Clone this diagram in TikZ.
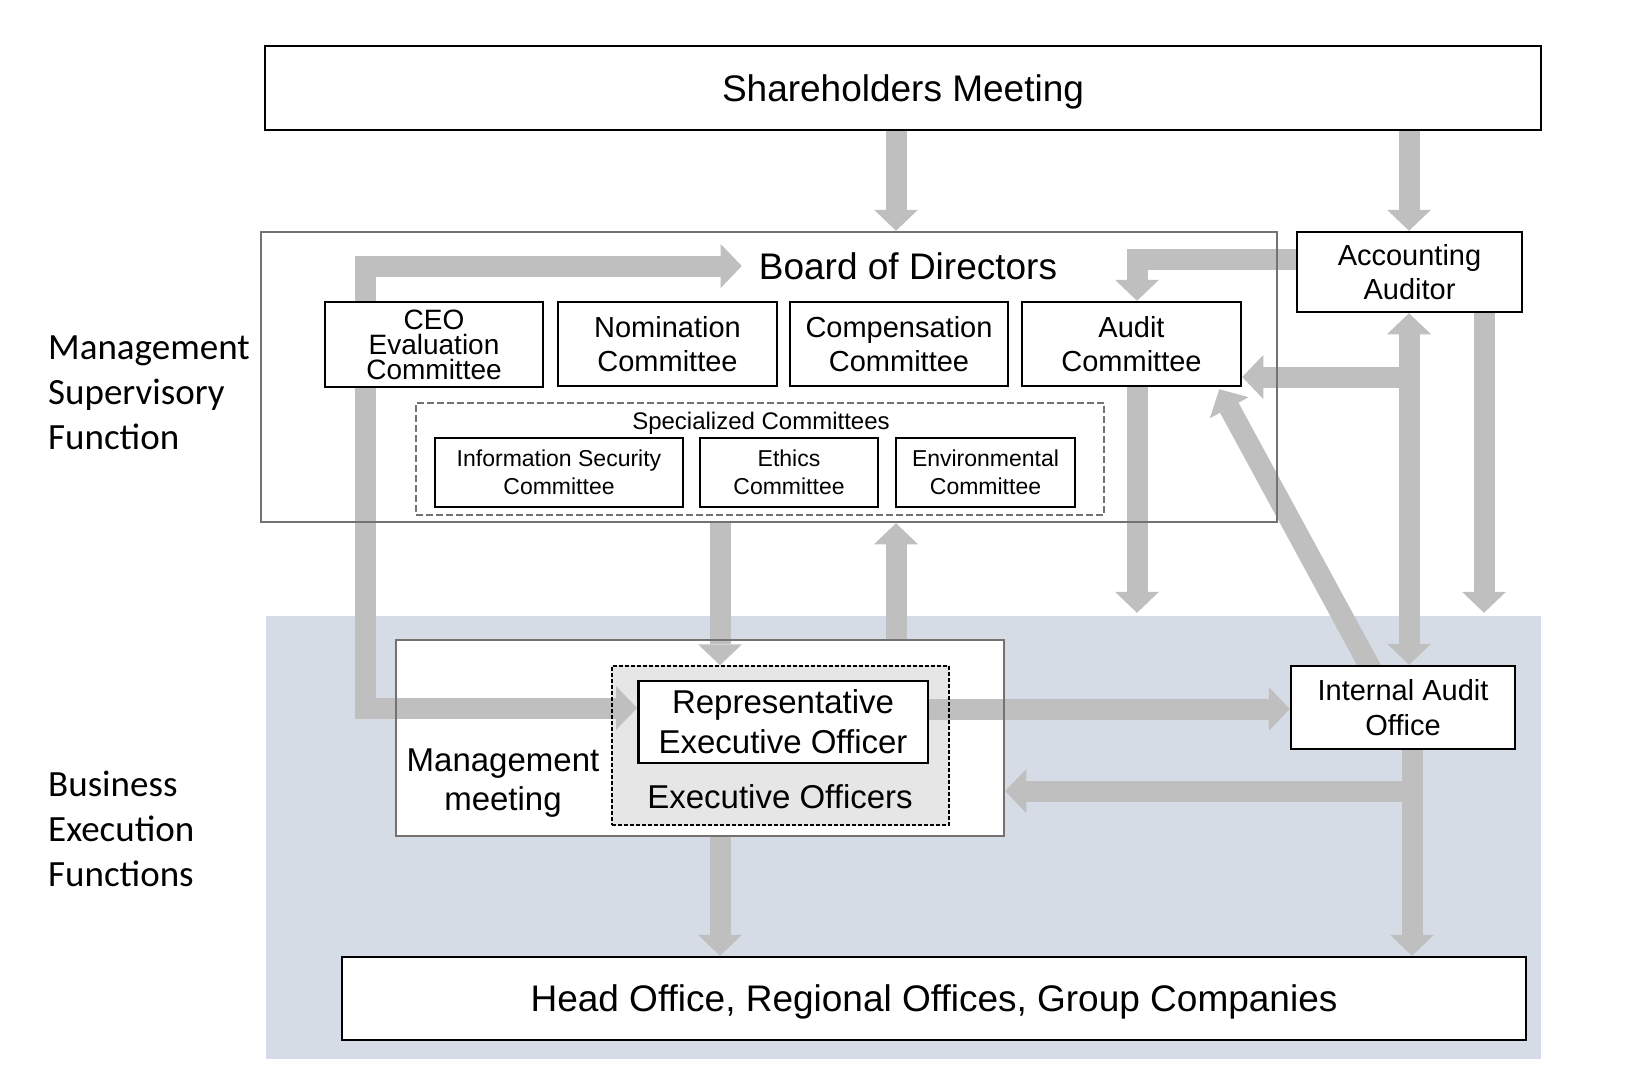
\documentclass[tikz,border=0pt]{standalone}
\usepackage{fontspec}
\setmainfont{Liberation Sans}
\newfontfamily\sidefont{Carlito}
\usetikzlibrary{arrows.meta}

\definecolor{flowgray}{RGB}{191,191,191}
\definecolor{bizblue}{RGB}{214,220,229}
\definecolor{framegray}{RGB}{118,113,113}
\definecolor{exofill}{RGB}{231,230,230}

\pgfdeclarelayer{back}
\pgfdeclarelayer{flows}
\pgfsetlayers{back,flows,main}

\tikzset{
  box/.style={draw=black, line width=2.5pt, fill=white, inner sep=0pt, align=center},
  outerframe/.style={draw=framegray, line width=2.5pt, inner sep=0pt},
  flow/.style={draw=flowgray, line width=21pt, line join=miter},
  >={Triangle[width=44pt,length=21pt,line width=0pt]},
  fbig/.style={font=\fontsize{37}{44}\selectfont},
  fmid/.style={font=\fontsize{33}{39.7}\selectfont},
  fcom/.style={font=\fontsize{29}{34.5}\selectfont},
  fsml/.style={font=\fontsize{23}{28}\selectfont},
  side/.style={font=\sidefont\fontsize{37}{45}\selectfont, align=left, anchor=west, inner sep=0pt},
}

\begin{document}
\begin{tikzpicture}[x=1pt,y=-1pt]
    \useasboundingbox (0,0) rectangle (1639,1084);

    % columns and rows of the arrows
    \coordinate (xa) at (896,0);
    \coordinate (xb) at (720,0);
    \coordinate (xc) at (1137,0);
    \coordinate (xd) at (1409,0);
    \coordinate (xe) at (1484,0);
    \coordinate (xf) at (1412,0);
    \coordinate (xg) at (365,0);
    \coordinate (ya) at (0,259);
    \coordinate (yb) at (0,377);
    \coordinate (yc) at (0,791);
    \coordinate (yd) at (0,709);
    \coordinate (ye) at (0,708);

    % Business execution area
    \begin{pgfonlayer}{back}
        \node[fill=bizblue, inner sep=0pt, minimum width=1275pt, minimum height=443pt] (biz) at (903,837.5) {};
    \end{pgfonlayer}
    \coordinate (bizedge) at ([yshift=3pt]biz.north);

    % Side labels
    \node[side] (msf) at (48,393) {Management\\Supervisory\\Function};
    \node[side] (bef) at (48,829) {Business\\Execution\\Functions};

    % Shareholders Meeting
    \node[box, fbig, text depth=0pt, minimum width=1276pt, minimum height=84pt] (sh) at (903,88) {Shareholders Meeting};

    % Board of Directors and its committees
    \node[outerframe, minimum width=1016pt, minimum height=290pt] (bod) at (769,377) {};
    \node[fbig, inner sep=0pt] (bodlabel) at (908,266) {Board of Directors};
    \node[box, font=\fontsize{28}{25}\selectfont, text depth=0pt, minimum width=218pt, minimum height=85pt] (ceo) at (434,344.5) {CEO\\Evaluation\\Committee};
    \node[box, fcom, minimum width=219pt, minimum height=84pt] (nom) at (667.5,344) {Nomination\\Committee};
    \node[box, fcom, minimum width=218pt, minimum height=84pt] (comp) at (899,344) {Compensation\\Committee};
    \node[box, fcom, minimum width=219pt, minimum height=84pt] (aud) at (1131.5,344) {Audit\\Committee};

    % Specialized committees
    \node[draw=framegray, line width=2pt, dash pattern=on 7pt off 3pt, inner sep=0pt,
          minimum width=688pt, minimum height=112pt] (spec) at (760,459) {};
    \node[font=\fontsize{24}{28}\selectfont, inner sep=0pt] (speclabel) at (761,423) {Specialized Committees};
    \node[box, fsml, minimum width=248pt, minimum height=69pt] (isc) at (559,472.5) {Information Security\\Committee};
    \node[box, fsml, minimum width=178pt, minimum height=69pt] (eth) at (789,472.5) {Ethics\\Committee};
    \node[box, fsml, minimum width=179pt, minimum height=69pt] (env) at (985.5,472.5) {Environmental\\Committee};

    % Accounting Auditor
    \node[box, fcom, minimum width=225pt, minimum height=80pt] (acc) at (1409.5,272) {Accounting\\Auditor};

    % Management meeting and executive officers
    \node[outerframe, minimum width=608pt, minimum height=196pt] (mgmt) at (700,738) {};
    \node[draw=black, line width=1.5pt, dash pattern=on 4pt off 2pt, inner sep=0pt,
          minimum width=337pt, minimum height=159pt] (exo) at (780.5,745.5) {};
    \node[box, fmid, minimum width=289.5pt, minimum height=82pt] (rep) at (783,722) {Representative\\Executive Officer};
    \node[fmid, inner sep=0pt] (exolabel) at (780,796.5) {Executive Officers};
    \node[fmid, inner sep=0pt, align=center] (mgmtlabel) at (503,783) {Management\\meeting};

    % Internal Audit Office
    \node[box, fcom, minimum width=224pt, minimum height=83pt] (iao) at (1403,707.5) {Internal Audit\\Office};

    % Head office row
    \node[box, fbig, text depth=0pt, minimum width=1184pt, minimum height=83pt] (hq) at (934,998.5) {Head Office, Regional Offices, Group Companies};

    % white grounds under the frames
    \begin{pgfonlayer}{back}
        \fill[white] (bod.north west) rectangle (bod.south east);
        \fill[white] (mgmt.north west) rectangle (mgmt.south east);
        \fill[exofill] (exo.north west) rectangle (exo.south east);
    \end{pgfonlayer}

    % Arrows
    \begin{pgfonlayer}{flows}
        \draw[flow,->] (sh.south -| xa) -- (bod.north -| xa);
        \draw[flow,->] (sh.south -| xd) -- (acc.north -| xd);
        \draw[flow,->] (acc.west |- ya) -| (aud.north -| xc);
        \draw[flow,->] (aud.south -| xc) -- (bizedge -| xc);
        \draw[flow,->] (acc.south -| xe) -- (bizedge -| xe);
        \draw[flow,<->] (acc.south -| xd) -- (iao.north -| xd);
        \draw[flow,->] (xd |- yb) -- (aud.east |- yb);
        \draw[flow,->] ([xshift=-31pt,yshift=-6pt]iao.north) -- ([xshift=-23pt,yshift=-2pt]aud.south east);
        \draw[flow,->] (bod.south -| xb) -- (exo.north -| xb);
        \draw[flow,->] (mgmt.north -| xa) -- (bod.south -| xa);
        \draw[flow,->] (rep.east |- yd) -- (iao.west |- yd);
        \draw[flow,->] (iao.south -| xf) |- (mgmt.east |- yc);
        \draw[flow,->] (iao.south -| xf) -- (hq.north -| xf);
        \draw[flow,->] (mgmt.south -| xb) -- (hq.north -| xb);
        \draw[flow,<->] (rep.west |- ye) -| (xg |- bodlabel) -- ([xshift=-17pt]bodlabel.west);
    \end{pgfonlayer}
\end{tikzpicture}
\end{document}
